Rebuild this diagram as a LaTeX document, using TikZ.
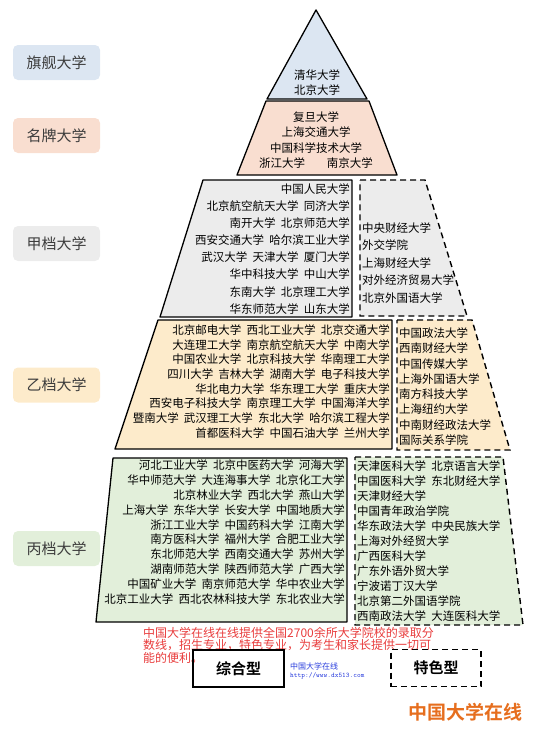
\documentclass[tikz,border=0pt]{standalone}
\usepackage{fontspec}
\setmainfont{Noto Sans CJK SC}[BoldFont={* Bold},WordSpace=2]
\usetikzlibrary{positioning}
\definecolor{TopBlue}{RGB}{220,230,242}
\definecolor{PeachRed}{RGB}{249,222,208}
\definecolor{JiaGray}{RGB}{236,236,236}
\definecolor{YiYellow}{RGB}{253,235,203}
\definecolor{BingGreen}{RGB}{226,239,218}
\definecolor{TagText}{RGB}{60,60,60}
\definecolor{NoteRed}{RGB}{232,60,60}
\definecolor{LinkBlue}{RGB}{40,60,220}
\definecolor{LogoOrange}{RGB}{230,110,30}

\begin{document}
\begin{tikzpicture}[x=1pt,y=-1pt,
    tag/.style={rounded corners=5pt,fill=#1,minimum width=87pt,minimum height=35pt,
      font=\fontsize{15}{15}\selectfont,text=TagText},
    solidtier/.style={draw,line width=1.3pt,line join=round},
    dashtier/.style={draw,line width=1.4pt,dash pattern=on 6pt off 4pt},
    uni/.style={font=\fontsize{11.5}{12}\selectfont,inner sep=0pt},
    kind/.style={minimum width=#1,minimum height=37pt,font=\bfseries\fontsize{15}{15}\selectfont}]
  \useasboundingbox (0,0) rectangle (550,744);
  \node[tag=TopBlue]   (flag)  at (56.5,62.5)  {旗舰大学};
  \node[tag=PeachRed]  (brand) at (56.5,135.5) {名牌大学};
  \node[tag=JiaGray]   (jia)   at (56.5,243.5) {甲档大学};
  \node[tag=YiYellow]  (yi)    at (56.5,385)   {乙档大学};
  \node[tag=BingGreen] (bing)  at (56.5,548.5) {丙档大学};

  \draw[solidtier,fill=TopBlue] (316,10)--(367,99)--(267,99)--cycle;
  \draw[solidtier,fill=PeachRed] (266,101)--(369,101)--(397,175)--(237,175)--cycle;
  \draw[solidtier,fill=JiaGray] (203,180)--(352,180)--(352,317)--(160,317)--cycle;
  \draw[dashtier,fill=JiaGray] (360,180)--(425,180)--(467,316)--(360,316)--cycle;
  \draw[solidtier,fill=YiYellow] (158,320)--(392,320)--(392,449)--(115,449)--cycle;
  \draw[dashtier,fill=YiYellow] (397,320)--(472,320)--(510,450)--(397,450)--cycle;
  \draw[solidtier,fill=BingGreen] (113,458)--(347,458)--(347,622)--(96,622)--cycle;
  \draw[dashtier,fill=BingGreen] (355,457)--(503,457)--(523,625)--(355,625)--cycle;

  \node[uni] (qh) at (317,75) {清华大学};
  \node[uni] (pk) at (317,90) {北京大学};
  \foreach \t [count=\i] in {复旦大学, 上海交通大学, 中国科学技术大学, 浙江大学\hspace{1.9em}南京大学}
    \node[uni] (mp\i) at (316,117+15.3*\i-15.3) {\t};

  \foreach \t [count=\i] in {中国人民大学, 北京航空航天大学 同济大学, 南开大学 北京师范大学,
      西安交通大学 哈尔滨工业大学, 武汉大学 天津大学 厦门大学, 华中科技大学 中山大学,
      东南大学 北京理工大学, 华东师范大学 山东大学}
    \node[uni,anchor=east] (jiaL\i) at (350,189+17.1*\i-17.1) {\t};
  \foreach \t [count=\i] in {中央财经大学, 外交学院, 上海财经大学, 对外经济贸易大学, 北京外国语大学}
    \node[uni,anchor=west] (jiaR\i) at (362,228+17.5*\i-17.5) {\t};

  \foreach \t [count=\i] in {北京邮电大学 西北工业大学 北京交通大学, 大连理工大学 南京航空航天大学 中南大学,
      中国农业大学 北京科技大学 华南理工大学, 四川大学 吉林大学 湖南大学 电子科技大学,
      华北电力大学 华东理工大学 重庆大学, 西安电子科技大学 南京理工大学 中国海洋大学,
      暨南大学 武汉理工大学 东北大学 哈尔滨工程大学, 首都医科大学 中国石油大学 兰州大学}
    \node[uni,anchor=east] (yiL\i) at (390,330+14.7*\i-14.7) {\t};
  \foreach \t [count=\i] in {中国政法大学, 西南财经大学, 中国传媒大学, 上海外国语大学,
      南方科技大学, 上海纽约大学, 中南财经政法大学, 国际关系学院}
    \node[uni,anchor=west] (yiR\i) at (399,333+15.3*\i-15.3) {\t};

  \foreach \t [count=\i] in {河北工业大学 北京中医药大学 河海大学, 华中师范大学 大连海事大学 北京化工大学,
      北京林业大学 西北大学 燕山大学, 上海大学 东华大学 长安大学 中国地质大学,
      浙江工业大学 中国药科大学 江南大学, 南方医科大学 福州大学 合肥工业大学,
      东北师范大学 西南交通大学 苏州大学, 湖南师范大学 陕西师范大学 广西大学,
      中国矿业大学 南京师范大学 华中农业大学, 北京工业大学 西北农林科技大学 东北农业大学}
    \node[uni,anchor=east] (bingL\i) at (345,465+14.9*\i-14.9) {\t};
  \foreach \t [count=\i] in {天津医科大学 北京语言大学, 中国医科大学 东北财经大学, 天津财经大学,
      中国青年政治学院, 华东政法大学 中央民族大学, 上海对外经贸大学, 广西医科大学,
      广东外语外贸大学, 宁波诺丁汉大学, 北京第二外国语学院, 西南政法大学 大连医科大学}
    \node[uni,anchor=west] (bingR\i) at (357,466+15*\i-15) {\t};

  \node[anchor=north west,align=left,inner sep=0pt,text=NoteRed,
    font=\fontsize{12}{12.5}\selectfont] (note) at (143,627)
    {中国大学在线在线提供全国2700余所大学院校的录取分\\数线，招生专业，特色专业，为考生和家长提供一切可\\能的便利。};
  \node[draw,line width=1.3pt,kind=91pt] (zonghe) at (238.5,668.5) {综合型};
  \node[dashtier,kind=90pt] (tese) at (436,668) {特色型};
  \node[anchor=west,inner sep=0pt,text=LinkBlue,font=\fontsize{8}{8}\selectfont] (site) at (290,666) {中国大学在线};
  \node[anchor=west,inner sep=0pt,text=LinkBlue,font=\ttfamily\fontsize{7}{7}\selectfont] (url) at (290,676) {http://www.dx513.com};
  \node[text=LogoOrange,font=\bfseries\fontsize{19}{19}\selectfont] (logo) at (465,712) {中国大学在线};
\end{tikzpicture}
\end{document}
